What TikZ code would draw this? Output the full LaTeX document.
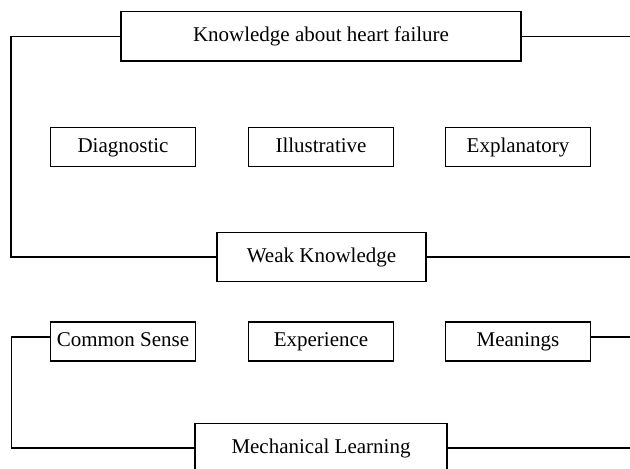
\documentclass[tikz,border=0pt]{standalone}
\usepackage{fontspec}
\setmainfont{Liberation Serif}

\tikzset{
  bigbox/.style={draw, line width=1.3pt, minimum height=49.5pt, inner sep=0pt,
    text height=13.5pt, text depth=3.5pt, font=\fontsize{21}{24}\selectfont},
  smallbox/.style={draw, line width=1.3pt, minimum width=145pt, minimum height=39pt,
    inner sep=0pt, text height=13.5pt, text depth=3.5pt, font=\fontsize{21}{24}\selectfont},
  link/.style={line width=1.2pt}
}

\begin{document}
\begin{tikzpicture}[x=1pt,y=-1pt]
\useasboundingbox (0,0) rectangle (630,469);
\clip (0,0) rectangle (630,469);
\coordinate (redge) at (630,0); % right border
\node[bigbox, minimum width=400pt] (know) at (321,36.3) {Knowledge about heart failure}; % top
\node[smallbox] (diag) at (123,147) {Diagnostic}; % row 1
\node[smallbox] (illu) at (321,147) {Illustrative}; % row 1
\node[smallbox] (expl) at (518,147) {Explanatory}; % row 1
\node[bigbox, minimum width=209pt] (weak) at (321.5,257) {Weak Knowledge}; % middle
\node[smallbox] (cs) at (123,341.5) {Common Sense}; % row 2
\node[smallbox] (expe) at (321,341.5) {Experience}; % row 2
\node[smallbox] (mean) at (518,341.5) {Meanings}; % row 2
\node[bigbox, minimum width=252pt] (mech) at (321,448) {Mechanical Learning}; % bottom
\draw[link] (know.west) -- ++(-109.3,0) |- (weak.west); % left bracket
\draw[link] (know.east) -- (know.east -| redge); % right exit
\draw[link] (weak.east) -- (weak.east -| redge); % right exit
\draw[link] ([yshift=4.5pt]cs.west) -- ++(-38.5,0) |- (mech.west); % left bracket
\draw[link] ([yshift=4.5pt]mean.east) -- ([yshift=4.5pt]mean.east -| redge); % right exit
\draw[link] (mech.east) -- (mech.east -| redge); % right exit
\end{tikzpicture}
\end{document}
